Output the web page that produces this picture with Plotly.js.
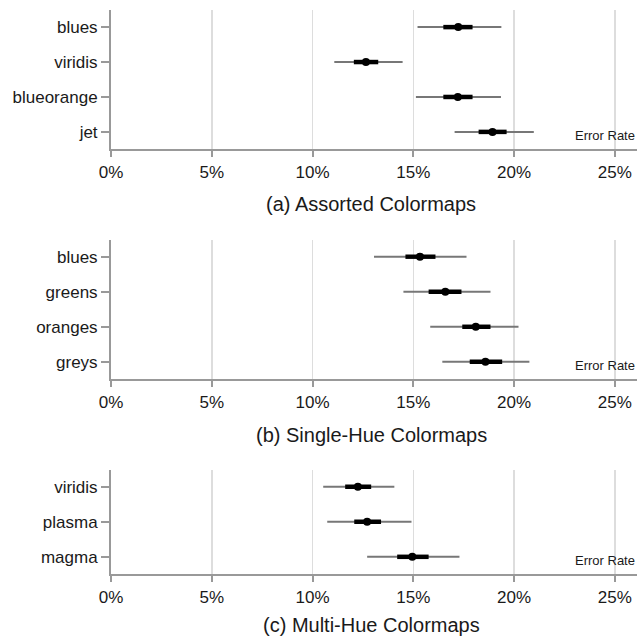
<!DOCTYPE html>
<html><head><meta charset="utf-8">
<script src="https://cdn.plot.ly/plotly-3.0.1.min.js"></script>
<style>html,body{margin:0;padding:0;background:#fff}#chart{width:637px;height:639px}</style>
</head><body><div id="chart"></div>
<script>
// Panel (a) Assorted Colormaps
const catsA = ["blues","viridis","blueorange","jet"];
const meanA = [17.23, 12.65, 17.21, 18.93];
const lo95A = [15.21, 11.08, 15.13, 17.05];
const hi95A = [19.37, 14.47, 19.35, 20.98];
const loCiA = [16.49, 12.05, 16.49, 18.24];
const hiCiA = [17.94, 13.26, 17.94, 19.63];
// Panel (b) Single-Hue Colormaps
const catsB = ["blues","greens","oranges","greys"];
const meanB = [15.33, 16.59, 18.10, 18.58];
const lo95B = [13.05, 14.51, 15.84, 16.44];
const hi95B = [17.64, 18.83, 20.22, 20.76];
const loCiB = [14.61, 15.76, 17.43, 17.80];
const hiCiB = [16.10, 17.39, 18.83, 19.41];
// Panel (c) Multi-Hue Colormaps
const catsC = ["viridis","plasma","magma"];
const meanC = [12.25, 12.71, 14.95];
const lo95C = [10.53, 10.73, 12.71];
const hi95C = [14.06, 14.91, 17.29];
const loCiC = [11.62, 12.07, 14.20];
const hiCiC = [12.91, 13.40, 15.76];

const titles = ["(a) Assorted Colormaps","(b) Single-Hue Colormaps","(c) Multi-Hue Colormaps"];
const xTicks = [0,5,10,15,20,25];
const xTickText = ["0%","5%","10%","15%","20%","25%"];
const axisLabel = "Error Rate";

const H = 639;
const FONT = "Liberation Sans, Arial, sans-serif";
const panels = [
  {cats:catsA, mean:meanA, lo:lo95A, hi:hi95A, clo:loCiA, chi:hiCiA, top:10, bottom:149, title:204},
  {cats:catsB, mean:meanB, lo:lo95B, hi:hi95B, clo:loCiB, chi:hiCiB, top:239.5, bottom:379, title:435},
  {cats:catsC, mean:meanC, lo:lo95C, hi:hi95C, clo:loCiC, chi:hiCiC, top:469.5, bottom:574, title:625}
];

function segs(cats, a, b){
  const x=[], y=[];
  cats.forEach((c,i)=>{ x.push(a[i], b[i], null); y.push(c, c, null); });
  return {x, y};
}

const data = [];
const layout = {
  width:637, height:639,
  margin:{l:111, r:0, t:0, b:0},
  paper_bgcolor:"#fff", plot_bgcolor:"#fff",
  showlegend:false,
  font:{family:FONT, color:"#1a1a1a", size:17},
  annotations:[]
};

panels.forEach((p,k)=>{
  const sx = k===0 ? "" : String(k+1);
  const xa = "x"+sx, ya = "y"+sx;
  const w = segs(p.cats, p.lo, p.hi);
  data.push({type:"scatter", mode:"lines", x:w.x, y:w.y, xaxis:xa, yaxis:ya,
    line:{color:"#777", width:2}, hoverinfo:"skip"});
  const t = segs(p.cats, p.clo, p.chi);
  data.push({type:"scatter", mode:"lines", x:t.x, y:t.y, xaxis:xa, yaxis:ya,
    line:{color:"#000", width:4.5}, hoverinfo:"skip"});
  data.push({type:"scatter", mode:"markers", x:p.mean, y:p.cats, xaxis:xa, yaxis:ya,
    marker:{color:"#000", size:8}});
  const n = p.cats.length;
  layout["xaxis"+sx] = {
    domain:[0,1], anchor:ya, range:[0,26.1], fixedrange:true,
    tickvals:xTicks, ticktext:xTickText,
    ticks:"outside", ticklen:6, tickwidth:2, tickcolor:"#999",
    ticklabelstandoff:1,
    showgrid:true, gridcolor:"#dddddd", gridwidth:1.5,
    showline:true, linecolor:"#999", linewidth:2,
    zeroline:false, tickfont:{size:17, color:"#1a1a1a"}
  };
  layout["yaxis"+sx] = {
    domain:[1-p.bottom/H, 1-p.top/H], anchor:xa,
    type:"category", categoryarray:p.cats, categoryorder:"array",
    range:[n-1+0.49, -0.49],
    showline:true, linecolor:"#999", linewidth:2,
    ticks:"outside", ticklen:8, tickwidth:2, tickcolor:"#999",
    showgrid:false, zeroline:false, tickfont:{size:17, color:"#1a1a1a"}
  };
  layout.annotations.push({text:axisLabel, xref:"paper", x:1, xanchor:"right",
    yref:ya+" domain", y:0, yanchor:"middle", yshift:14, showarrow:false,
    font:{size:13, color:"#1a1a1a"}});
  layout.annotations.push({text:titles[k], xref:"paper", x:(371-111)/526, xanchor:"center",
    yref:"paper", y:1-p.title/H, yanchor:"middle", showarrow:false,
    font:{size:20, color:"#1a1a1a"}});
});

Plotly.newPlot("chart", data, layout, {displayModeBar:false, staticPlot:true});
</script></body></html>
